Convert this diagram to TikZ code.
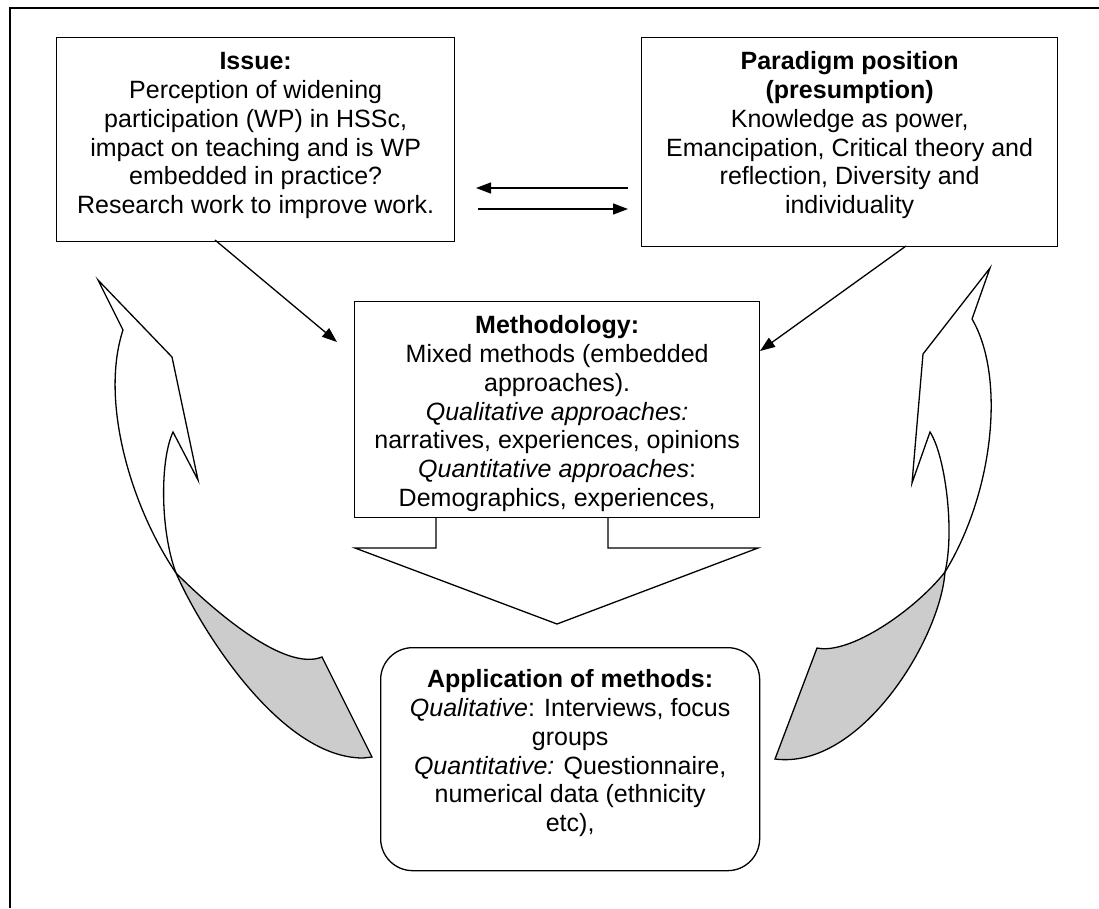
\documentclass[tikz,border=0pt]{standalone}
\usepackage{fontspec}
\setmainfont{Liberation Sans}
\usetikzlibrary{arrows.meta}
\definecolor{shade}{RGB}{204,204,204}
\begin{document}
\begin{tikzpicture}[x=1pt,y=-1pt,
  box/.style={draw,line width=1.3pt,inner sep=0pt},
  txt/.style={inner sep=0pt,align=center,anchor=north,font=\fontsize{25}{28.75}\selectfont},
  conn/.style={line width=1.3pt,-{Triangle[length=15pt,width=11pt]}},
  ribbon/.style={line width=1.3pt,line join=miter},
]
\useasboundingbox (0,0) rectangle (1099,908);
% outer frame (top and left only)
\draw[line width=2.7pt] (10,908) -- (10,8) -- (1099,8);

% boxes
\node[box,minimum width=398pt,minimum height=204pt,anchor=north west] (issue) at (56,37) {};
\node[txt] (issuetxt) at ([yshift=-10pt]issue.north) {\rule{0pt}{22.6pt}\textbf{Issue:}\\Perception of widening\\participation (WP) in HSSc,\\impact on teaching and is WP\\embedded in practice?\\Research work to improve work.};

\node[box,minimum width=416pt,minimum height=209pt,anchor=north west] (para) at (641,37) {};
\node[txt] (paratxt) at ([yshift=-10pt]para.north) {\rule{0pt}{22.6pt}\textbf{Paradigm position}\\\textbf{(presumption)}\\Knowledge as power,\\Emancipation, Critical theory and\\reflection, Diversity and\\individuality};

\node[box,minimum width=405pt,minimum height=216pt,anchor=north west] (meth) at (354,301) {};
\node[txt] (methtxt) at ([yshift=-10pt]meth.north) {\rule{0pt}{22.6pt}\textbf{Methodology:}\\Mixed methods (embedded\\approaches).\\\textit{Qualitative approaches:}\\narratives, experiences, opinions\\\textit{Quantitative approaches}:\\Demographics, experiences,};

\node[box,rounded corners=32pt,minimum width=379pt,minimum height=223pt,anchor=north west] (apply) at (380,647) {};
\node[txt] (applytxt) at ([yshift=-18pt]apply.north) {\rule{0pt}{22.6pt}\textbf{Application of methods:}\\\textit{Qualitative}: Interviews, focus\\groups\\\textit{Quantitative:} Questionnaire,\\numerical data (ethnicity\\etc),};

% connectors
\coordinate (p2iS) at (628,188); \coordinate (p2iE) at (476,188);
\coordinate (i2pS) at (478,209); \coordinate (i2pE) at (628,209);
\coordinate (i2mS) at (215,240); \coordinate (i2mE) at (337,342);
\coordinate (p2mS) at (906,246); \coordinate (p2mE) at (760,351);
\draw[conn] (p2iS) -- (p2iE);
\draw[conn] (i2pS) -- (i2pE);
\draw[conn] (i2mS) -- (i2mE);
\draw[conn] (p2mS) -- (p2mE);

% big down block arrow
\draw[ribbon] (436,517) -- (436,548) -- (355,548) -- (557,624) -- (758,548) -- (608,548) -- (608,517);

% left curved arrow
\draw[ribbon,fill=shade] (176,573) .. controls (215,612) and (285,672) .. (322,657)
  -- (372,757) -- (363,758) .. controls (280,758) and (200,628) .. (176,573) -- cycle;
\draw[ribbon] (123,330) -- (98,280) -- (172,357) -- (198,480) -- (173,432)
  .. controls (160,460) and (160,530) .. (176,573);
\draw[ribbon] (123,330) .. controls (100,400) and (130,505) .. (176,573);

% right curved arrow
\draw[ribbon,fill=shade] (945,572) .. controls (915,610) and (850,655) .. (817,648)
  -- (775,759) .. controls (860,770) and (940,640) .. (945,572) -- cycle;
\draw[ribbon] (972,319) -- (990,268) -- (923,354) -- (912,483) -- (930,432)
  .. controls (945,455) and (955,530) .. (945,572);
\draw[ribbon] (972,319) .. controls (1005,375) and (995,490) .. (945,572);
\end{tikzpicture}
\end{document}
